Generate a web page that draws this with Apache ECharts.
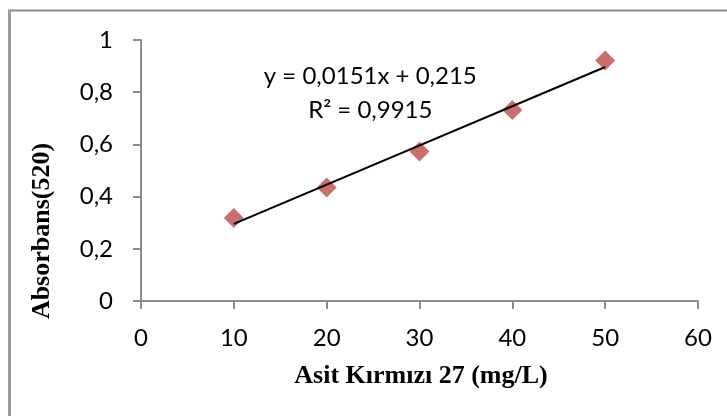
<!DOCTYPE html>
<html>
<head>
<meta charset="utf-8">
<script src="https://cdn.jsdelivr.net/npm/echarts@6/dist/echarts.min.js"></script>
<style>
  html, body { margin: 0; padding: 0; background: #ffffff; }
  #chart { width: 727px; height: 416px; }
</style>
</head>
<body>
<div id="chart"></div>
<script>
// Calibration data: dye concentration vs absorbance at 520 nm
const concentrations = [10, 20, 30, 40, 50];          // mg/L
const absorbances = [0.318, 0.435, 0.573, 0.732, 0.921];
const xTicks = [0, 10, 20, 30, 40, 50, 60];
const yTicks = [0, 0.2, 0.4, 0.6, 0.8, 1];
const equationText = 'y = 0,0151x + 0,215';
const r2Text = 'R² = 0,9915';
const xTitle = 'Asit Kırmızı 27 (mg/L)';
const yTitle = 'Absorbans(520)';

// Least-squares linear trendline through the measured points
function linearFit(xs, ys) {
  const n = xs.length;
  const mx = xs.reduce((a, b) => a + b, 0) / n;
  const my = ys.reduce((a, b) => a + b, 0) / n;
  let sxy = 0, sxx = 0;
  for (let i = 0; i < n; i++) {
    sxy += (xs[i] - mx) * (ys[i] - my);
    sxx += (xs[i] - mx) * (xs[i] - mx);
  }
  const slope = sxy / sxx;
  return { slope: slope, intercept: my - slope * mx };
}
const fit = linearFit(concentrations, absorbances);
const xFirst = Math.min(...concentrations);
const xLast = Math.max(...concentrations);
const trend = [
  [xFirst, fit.intercept + fit.slope * xFirst],
  [xLast, fit.intercept + fit.slope * xLast]
];

const points = concentrations.map((c, i) => [c, absorbances[i]]);
const commaNum = v => String(v).replace('.', ',');

const labelFont = 'Lato';
const axisGray = '#8c8c8c';

const chart = echarts.init(document.getElementById('chart'), null, { renderer: 'canvas' });

chart.setOption({
  animation: false,
  backgroundColor: '#ffffff',
  grid: { left: 141, right: 29, top: 40, bottom: 115, containLabel: false },
  xAxis: {
    type: 'value',
    min: xTicks[0],
    max: xTicks[xTicks.length - 1],
    interval: 10,
    splitLine: { show: false },
    axisLine: { lineStyle: { color: axisGray, width: 2 } },
    axisTick: { show: true, length: 8, inside: false, lineStyle: { color: axisGray, width: 2 } },
    axisLabel: {
      margin: 25,
      color: '#000',
      fontFamily: labelFont,
      fontSize: 24,
      formatter: v => commaNum(v)
    }
  },
  yAxis: {
    type: 'value',
    min: yTicks[0],
    max: yTicks[yTicks.length - 1],
    interval: 0.2,
    splitLine: { show: false },
    axisLine: { show: true, lineStyle: { color: axisGray, width: 2 } },
    axisTick: { show: true, length: 8, inside: false, lineStyle: { color: axisGray, width: 2 } },
    axisLabel: {
      margin: 28,
      color: '#000',
      fontFamily: labelFont,
      fontSize: 24,
      formatter: v => commaNum(Math.round(v * 10) / 10)
    }
  },
  series: [
    {
      name: 'Ölçüm',
      type: 'scatter',
      data: points,
      symbol: 'diamond',
      symbolSize: 20,
      itemStyle: { color: '#be4b48' },
      z: 2
    },
    {
      name: 'Doğrusal',
      type: 'line',
      data: trend,
      symbol: 'none',
      lineStyle: { color: '#000', width: 2 },
      z: 3
    }
  ]
});

// Chart frame, axis titles and the trendline equation
const eqPos = chart.convertToPixel({ gridIndex: 0 }, [24.7, 0.797]);
chart.setOption({
  graphic: [
    {
      type: 'rect',
      shape: { x: 9, y: 10.5, width: 800, height: 500 },
      style: { fill: 'none', stroke: '#8c8c8c', lineWidth: 2 },
      silent: true
    },
    {
      type: 'line',
      shape: { x1: 9.5, y1: 10, x2: 9.5, y2: 420 },
      style: { stroke: '#9a9a9a', lineWidth: 3 },
      silent: true
    },
    {
      type: 'text',
      x: eqPos[0],
      y: eqPos[1],
      style: {
        text: equationText + '\n' + r2Text,
        fill: '#000',
        font: '24px Lato',
        align: 'center',
        verticalAlign: 'middle',
        lineHeight: 34
      }
    },
    {
      type: 'text',
      x: 421,
      y: 376,
      style: {
        text: xTitle,
        fill: '#000',
        font: 'bold 26px "Liberation Serif"',
        align: 'center',
        verticalAlign: 'middle'
      }
    },
    {
      type: 'text',
      x: 42,
      y: 231,
      rotation: Math.PI / 2,
      style: {
        text: yTitle,
        fill: '#000',
        font: 'bold 26px "Liberation Serif"',
        align: 'center',
        verticalAlign: 'middle'
      }
    }
  ]
});
</script>
</body>
</html>
